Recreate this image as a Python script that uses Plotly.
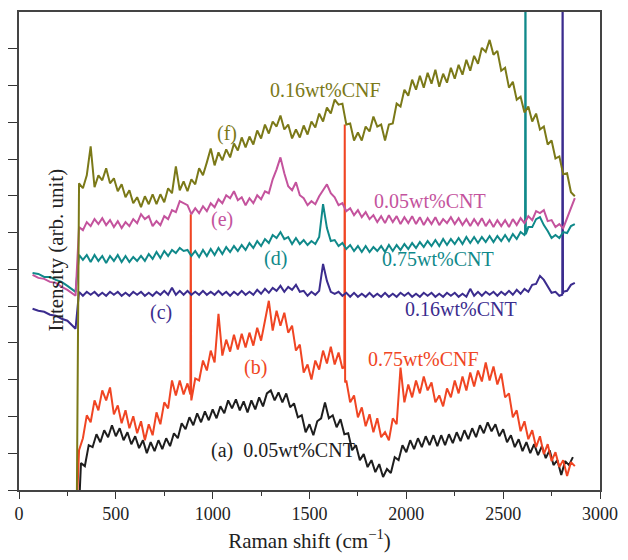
import plotly.graph_objects as go

STEP = 20

# ---- shared short segment below 300 cm-1 (c, d, e) ----
pre_shift = [70, 100, 130, 160, 190, 220, 250, 275, 292]
pre_d = [218, 217, 214, 214, 211, 209, 205, 201, 199]
pre_e = [216, 213, 212, 209, 208, 204, 201, 197, 195]
pre_c = [182, 180, 179, 176, 175, 172, 170, 165, 162]

# ---- (f) 0.16wt%CNF, sampled from 310 cm-1 ----
f_start = 310
f_vals = [308, 303, 316, 345, 304, 316, 311, 323, 308, 313, 300, 307, 294, 301, 288, 294, 284, 295, 287, 297,
          287, 297, 289, 303, 298, 325, 301, 310, 300, 312, 307, 323, 316, 329, 343, 326, 339, 331, 342, 334,
          348, 341, 354, 344, 355, 347, 361, 353, 367, 358, 370, 365, 376, 362, 367, 353, 362, 354, 366, 357,
          370, 364, 378, 370, 384, 378, 392, 387, 388, 367, 368, 351, 359, 351, 365, 360, 375, 365, 367, 351,
          367, 368, 388, 385, 402, 396, 412, 402, 416, 404, 419, 408, 422, 405, 418, 409, 424, 413, 427, 417,
          432, 421, 436, 428, 444, 440, 452, 437, 441, 421, 424, 404, 410, 392, 395, 379, 385, 370, 378, 362,
          365, 347, 351, 333, 335, 317, 318, 299, 295]
f_lead_x, f_lead_y = [299], [0]

# ---- (e) 0.05wt%CNT ----
e_start = 310
e_vals = [264, 261, 269, 265, 272, 267, 273, 266, 271, 264, 270, 263, 269, 265, 272, 268, 277, 272, 275, 265,
          270, 266, 275, 272, 281, 279, 290, 288, 286, 277, 283, 278, 285, 280, 288, 284, 292, 288, 296, 293,
          300, 291, 294, 286, 293, 288, 296, 292, 300, 298, 312, 322, 334, 318, 305, 301, 309, 296, 293, 286,
          290, 287, 295, 301, 307, 298, 294, 286, 288, 280, 283, 276, 281, 274, 279, 272, 276, 269, 275, 268,
          276, 269, 275, 267, 274, 268, 275, 267, 274, 266, 273, 267, 274, 266, 272, 268, 274, 267, 273, 266,
          272, 265, 272, 266, 273, 265, 271, 264, 271, 265, 271, 264, 272, 266, 273, 268, 275, 271, 280, 278,
          281, 270, 271, 264, 267, 263, 273, 281, 293]

# ---- (d) 0.75wt%CNT ----
d_start = 310
d_vals = [236, 231, 236, 229, 236, 230, 235, 228, 235, 230, 236, 229, 235, 229, 234, 230, 235, 230, 237, 232,
          239, 233, 240, 235, 241, 238, 243, 240, 241, 235, 240, 234, 241, 235, 242, 236, 243, 237, 244, 239,
          245, 240, 246, 241, 248, 243, 250, 245, 252, 248, 256, 253, 259, 252, 254, 247, 253, 247, 251, 246,
          250, 247, 254, 287, 263, 250, 251, 245, 248, 242, 246, 240, 245, 239, 245, 239, 244, 240, 245, 239,
          246, 240, 246, 241, 247, 242, 248, 243, 249, 244, 250, 245, 251, 245, 252, 246, 252, 247, 253, 247,
          254, 248, 254, 248, 254, 249, 255, 249, 255, 250, 256, 250, 257, 252, 259, 256, 264, 264, 272, 274,
          266, 260, 253, 256, 253, 259, 258, 265, 267]
d_spike_x, d_spike_y = [2613, 2615, 2617], [257, 600, 257]

# ---- (c) 0.16wt%CNT ----
c_start = 310
c_vals = [199, 195, 199, 196, 199, 195, 198, 195, 199, 196, 199, 195, 198, 195, 199, 196, 199, 195, 198, 195,
          199, 196, 200, 196, 203, 196, 200, 196, 200, 196, 199, 196, 200, 196, 199, 196, 200, 196, 199, 195,
          199, 196, 200, 196, 199, 196, 201, 197, 202, 198, 203, 200, 205, 199, 204, 201, 206, 199, 200, 195,
          199, 196, 200, 227, 210, 199, 197, 199, 195, 198, 194, 198, 194, 197, 194, 198, 194, 197, 194, 198,
          194, 197, 194, 198, 195, 198, 194, 197, 194, 198, 195, 198, 194, 197, 194, 198, 195, 198, 194, 197,
          194, 202, 195, 199, 195, 199, 196, 199, 195, 199, 196, 200, 196, 201, 197, 202, 199, 206, 207, 215,
          211, 205, 198, 199, 195, 199, 200, 206, 208]
c_spike_x, c_spike_y = [2805, 2807, 2809], [196, 600, 197]

# ---- (b) 0.75wt%CNF ----
b_start = 310
b_vals = [40, 52, 75, 68, 90, 80, 100, 90, 103, 76, 85, 67, 80, 62, 74, 57, 69, 50, 66, 55,
          78, 66, 88, 82, 110, 95, 110, 96, 107, 90, 112, 110, 130, 120, 140, 128, 177, 135, 151, 139,
          156, 141, 157, 143, 158, 145, 163, 150, 170, 190, 160, 180, 165, 178, 158, 165, 140, 146, 118, 126,
          111, 130, 121, 140, 127, 144, 126, 138, 122, 110, 88, 95, 73, 83, 64, 76, 58, 72, 53, 58,
          50, 72, 66, 123, 88, 106, 93, 110, 97, 114, 100, 108, 88, 95, 84, 102, 93, 110, 97, 114,
          100, 118, 104, 120, 109, 128, 110, 124, 106, 117, 93, 97, 73, 80, 59, 69, 51, 60, 43, 54,
          36, 46, 29, 38, 23, 30, 14, 28, 24]
b_lead_x, b_lead_y = [302], [0]
b_spike_x = [885, 887, 889, 1680, 1682, 1684]
b_spike_y = [96, 277, 94, 124, 367, 108]

# ---- (a) 0.05wt%CNT ----
a_start = 320
a_vals = [27, 24, 45, 43, 56, 48, 60, 53, 65, 54, 62, 50, 58, 46, 54, 42, 50, 37, 48, 39,
          50, 41, 52, 44, 57, 52, 67, 61, 73, 65, 77, 68, 79, 70, 81, 72, 84, 77, 90, 82,
          91, 80, 89, 78, 90, 81, 93, 84, 97, 100, 90, 98, 88, 97, 83, 87, 73, 75, 58, 66,
          55, 69, 72, 88, 72, 75, 63, 71, 56, 57, 40, 45, 30, 36, 23, 30, 18, 26, 13, 21,
          17, 33, 30, 45, 38, 50, 41, 52, 43, 54, 45, 55, 44, 55, 45, 56, 47, 58, 49, 60,
          51, 62, 53, 65, 57, 68, 59, 66, 54, 61, 48, 55, 43, 51, 39, 48, 37, 46, 35, 44,
          32, 40, 25, 30, 15, 29, 25, 33]
a_lead_x, a_lead_y = [314], [0]

labels = ["(a)  0.05wt%CNT", "(b)", "0.75wt%CNF", "(c)", "0.16wt%CNT", "(d)", "0.75wt%CNT",
          "(e)", "0.05wt%CNT", "(f)", "0.16wt%CNF"]
label_x = [983, 1221, 2088, 735, 2280, 1323, 2164, 1049, 2123, 1074, 1581]
label_y = [40, 123, 132, 178, 182, 232, 232, 272, 290, 358, 402]
label_series = ["a", "b", "b", "c", "c", "d", "d", "e", "e", "f", "f"]

colors = {"a": "#1e1e1e", "b": "#f04523", "c": "#3b2c8e", "d": "#10898a",
          "e": "#c4539d", "f": "#7b7918"}


def build(start, vals, extra_x=(), extra_y=()):
    xs = [start + STEP * i for i in range(len(vals))]
    pts = sorted(zip(list(extra_x) + xs, list(extra_y) + vals))
    return [p[0] for p in pts], [p[1] for p in pts]


series = {
    "a": build(a_start, a_vals, a_lead_x, a_lead_y),
    "b": build(b_start, b_vals, b_lead_x + b_spike_x, b_lead_y + b_spike_y),
    "c": build(c_start, c_vals, pre_shift + c_spike_x, pre_c + c_spike_y),
    "d": build(d_start, d_vals, pre_shift + d_spike_x, pre_d + d_spike_y),
    "e": build(e_start, e_vals, pre_shift, pre_e),
    "f": build(f_start, f_vals, f_lead_x, f_lead_y),
}

fig = go.Figure()
for key in ["a", "b", "c", "d", "e", "f"]:
    xs, ys = series[key]
    fig.add_trace(go.Scatter(x=xs, y=ys, mode="lines",
                             line=dict(color=colors[key], width=2),
                             showlegend=False, hoverinfo="skip"))

FONT = "Liberation Serif, Times New Roman, serif"
for t, x, y, s in zip(labels, label_x, label_y, label_series):
    fig.add_annotation(x=x, y=y, text=t, showarrow=False,
                       xanchor="left" if t.startswith("(a)") else "center",
                       font=dict(family=FONT, size=20, color=colors[s]))

fig.add_annotation(xref="paper", yref="paper", x=(39 - 16) / 592, y=(490 - 249) / 480,
                   text="Intensity (arb. unit)", textangle=-90, showarrow=False,
                   font=dict(family=FONT, size=21, color="#222"))

YTOP = 480
fig.update_layout(
    width=628, height=560,
    margin=dict(l=16, r=20, t=10, b=70),
    paper_bgcolor="white", plot_bgcolor="white",
    font=dict(family=FONT, size=18, color="#222"),
    xaxis=dict(range=[0, 3000], tickmode="linear", tick0=0, dtick=500,
               ticks="outside", ticklen=7, tickwidth=1.2, tickcolor="#333",
               minor=dict(ticks="outside", ticklen=4, dtick=250, tickcolor="#333"),
               showline=True, linecolor="#444", linewidth=1.5, mirror=True,
               showgrid=False, zeroline=False,
               title=dict(text="Raman shift (cm<sup>−1</sup>)", standoff=10,
                          font=dict(family=FONT, size=21)),
               tickfont=dict(family=FONT, size=18)),
    yaxis=dict(range=[0, YTOP], tickmode="array",
               tickvals=[k * YTOP / 13 for k in range(13)],
               showticklabels=False, ticks="outside", ticklen=9, tickwidth=1.2,
               tickcolor="#333",
               showline=True, linecolor="#444", linewidth=1.5, mirror=True,
               showgrid=False, zeroline=False),
)

fig.write_html("out.html")
